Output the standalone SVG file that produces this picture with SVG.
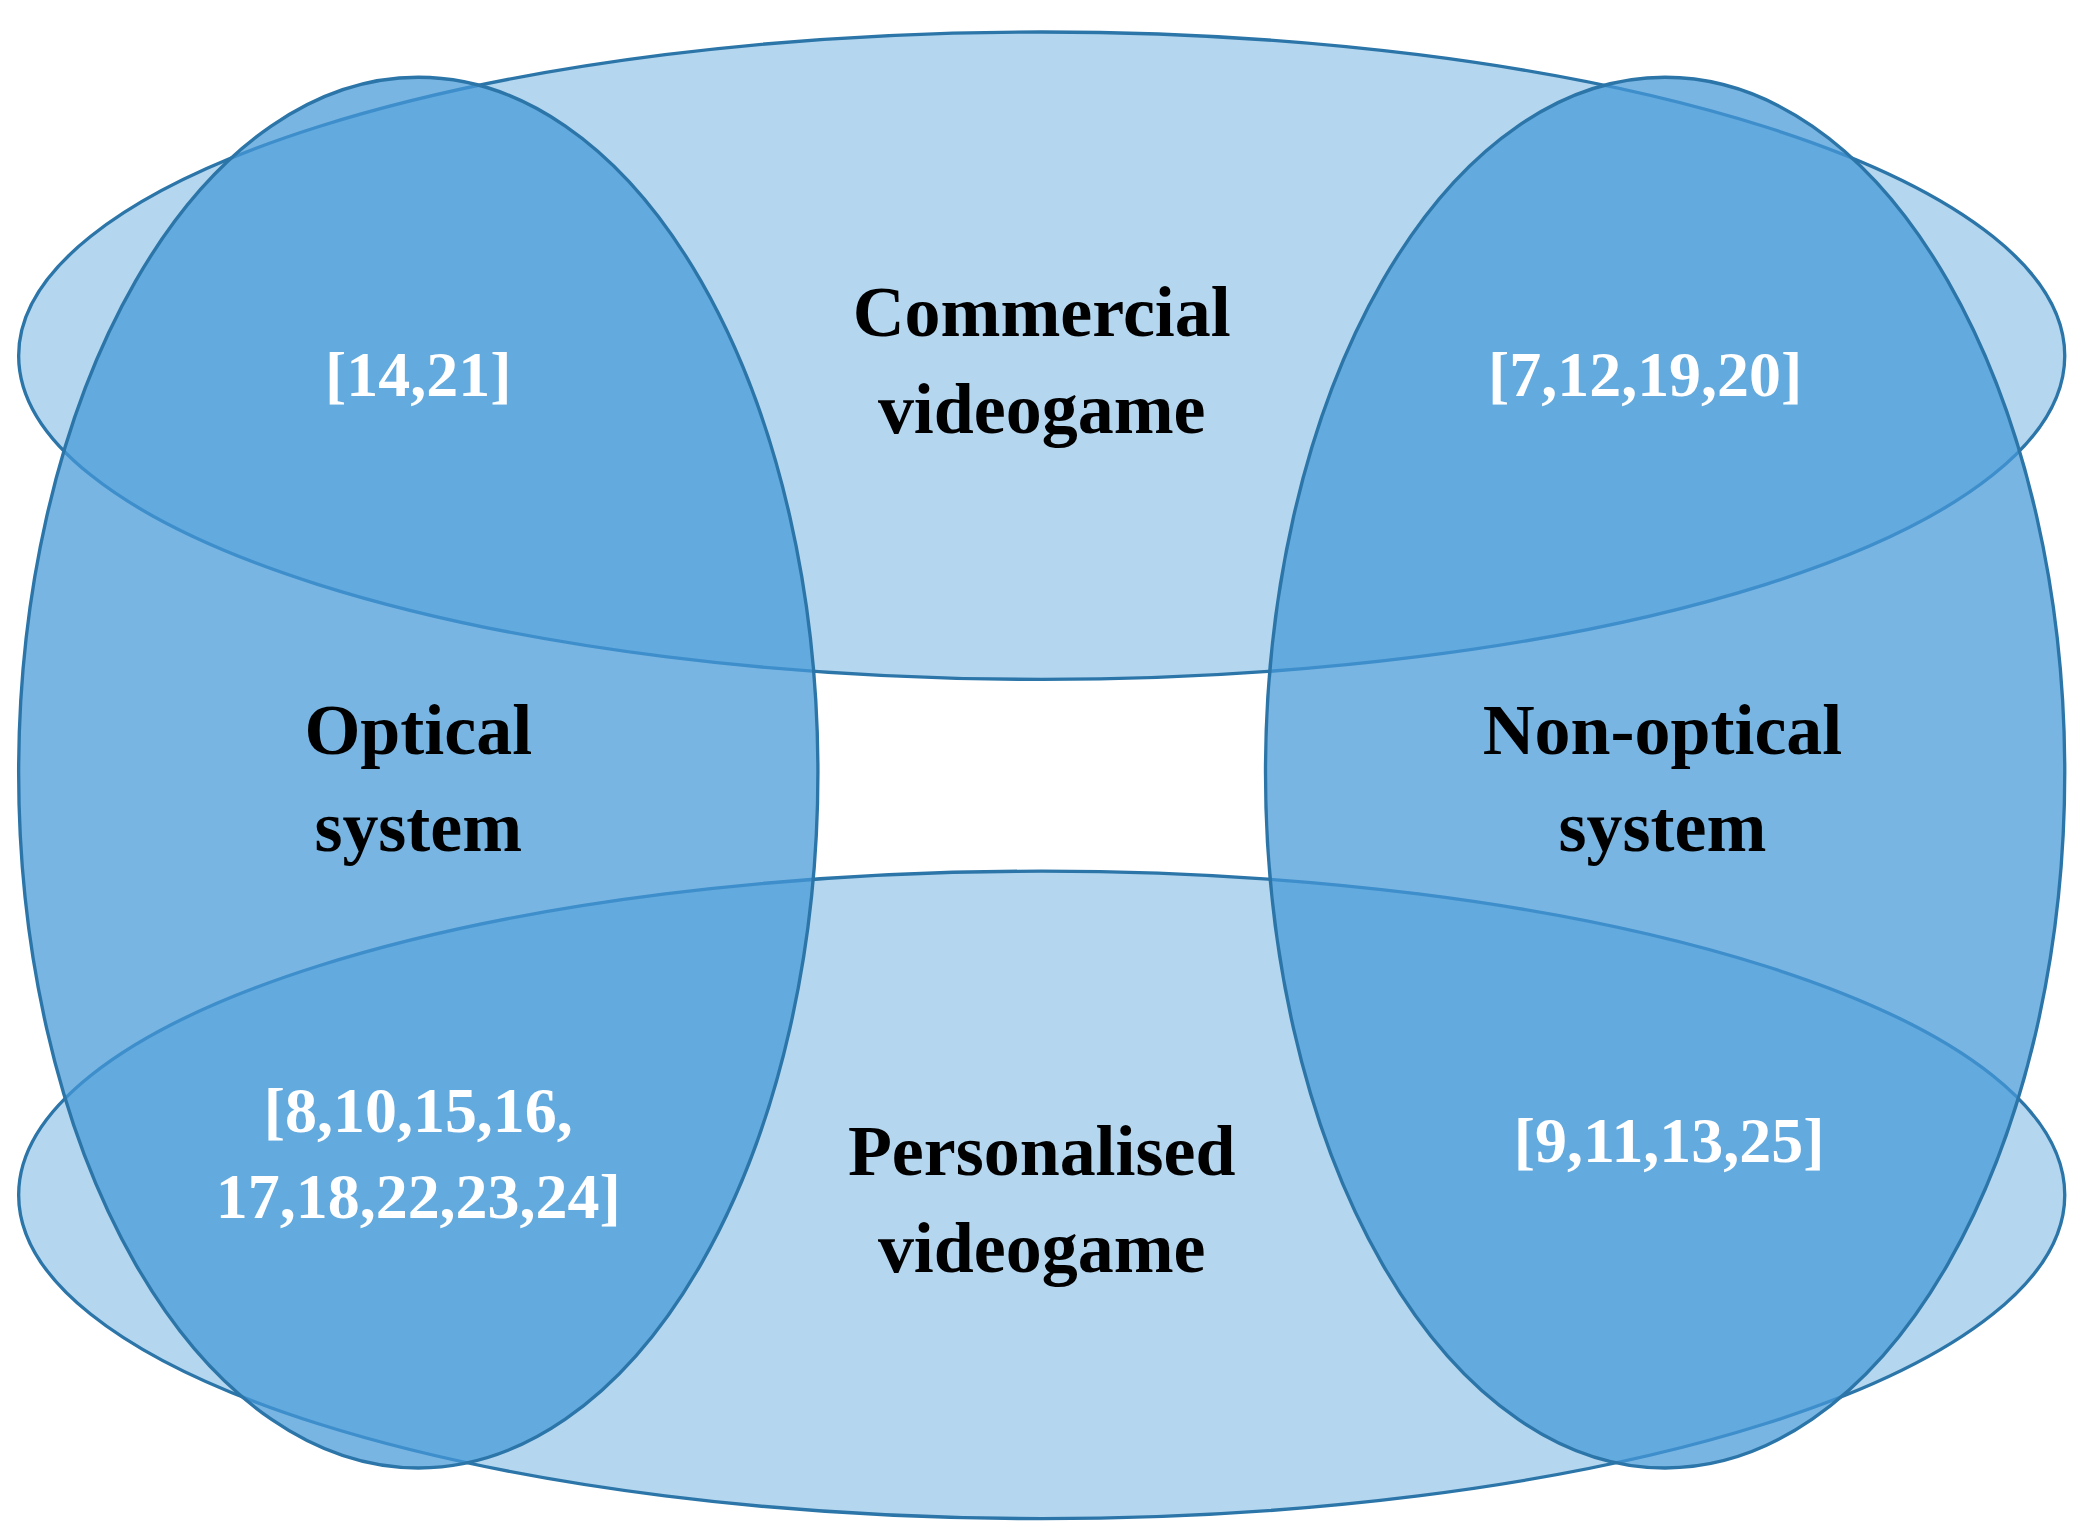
<svg xmlns="http://www.w3.org/2000/svg" width="2082" height="1538" viewBox="0 0 2082 1538">
<style>
.e{fill:rgb(68,152,216);stroke:#2b75a8;stroke-width:2.5}
.h{fill-opacity:0.4}
.v{fill-opacity:0.72}
.t{font-family:"Liberation Serif",serif;font-weight:bold;font-size:54px;fill:#000;text-anchor:middle}
.r{font-family:"Liberation Serif",serif;font-weight:bold;font-size:48px;fill:#fff;text-anchor:middle}
</style>
<rect width="2082" height="1538" fill="#fff"/>
<g transform="scale(1.3321)">
<g id="commercial"><ellipse class="e h" cx="782" cy="267" rx="768" ry="243"/></g>
<g id="personalised"><ellipse class="e h" cx="782" cy="897" rx="768" ry="243"/></g>
<g id="optical"><ellipse class="e v" cx="314" cy="580" rx="300" ry="522"/></g>
<g id="nonoptical"><ellipse class="e v" cx="1250" cy="580" rx="300" ry="522"/></g>
<g id="labels">
<text class="t" x="782" y="252">Commercial</text>
<text class="t" x="782" y="325">videogame</text>
<text class="t" x="782" y="882">Personalised</text>
<text class="t" x="782" y="955">videogame</text>
<text class="t" x="314" y="566">Optical</text>
<text class="t" x="314" y="639">system</text>
<text class="t" x="1248" y="566">Non-optical</text>
<text class="t" x="1248" y="639">system</text>
<text class="r" x="314" y="297">[14,21]</text>
<text class="r" x="1235" y="297">[7,12,19,20]</text>
<text class="r" x="314" y="850">[8,10,15,16,</text>
<text class="r" x="314" y="914">17,18,22,23,24]</text>
<text class="r" x="1253" y="872">[9,11,13,25]</text>
</g>
</g>
</svg>
